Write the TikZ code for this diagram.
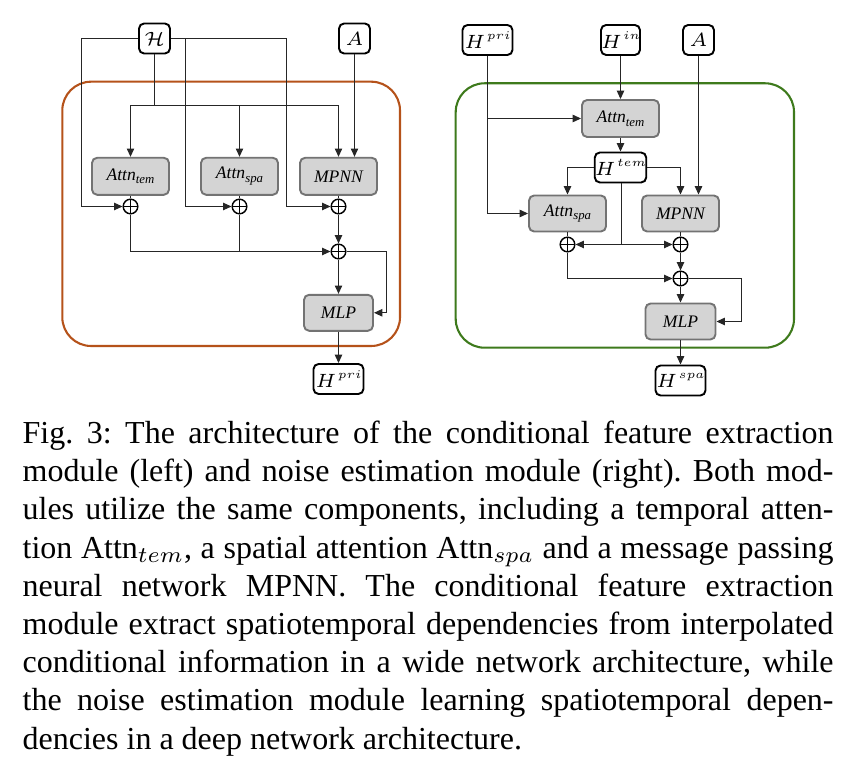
\documentclass[tikz,border=0pt]{standalone}
\usepackage{fix-cm}
\usepackage{fontspec}
\setmainfont{Liberation Serif}
\usetikzlibrary{arrows.meta}
\definecolor{modorange}{RGB}{181,82,26}
\definecolor{modgreen}{RGB}{62,122,28}
\newcommand\lsub[1]{\raisebox{-0.45ex}{\fontsize{4}{4}\selectfont #1}}
\newcommand\hlab[1]{$H$\kern0.5pt\raisebox{0.95ex}{\fontsize{3.7}{4}\selectfont$#1$}}
\def\pu{0.3125pt}
\begin{document}
\begin{tikzpicture}[x=0.3125pt,y=-0.3125pt,
 line/.style={draw=black!85, line width=0.35pt},
 arr/.style={line, -{Triangle[length=2.6pt,width=2.3pt]}},
 gbox/.style={draw=black!55, fill=black!17, line width=0.6pt, rounded corners=1.6pt, minimum width=77*\pu, minimum height=37*\pu, inner sep=0pt, font=\fontsize{5.5}{6}\selectfont\itshape},
 wbox/.style={draw=black, fill=white, line width=0.6pt, rounded corners=1.6pt, minimum width=50*\pu, minimum height=30*\pu, inner sep=0pt, font=\fontsize{6}{7}\selectfont},
 sbox/.style={wbox, minimum width=31*\pu},
 plus/.style={circle, draw=black, line width=0.45pt, minimum size=14.6*\pu, inner sep=0pt,
   path picture={\draw[line width=0.45pt] (path picture bounding box.north) -- (path picture bounding box.south) (path picture bounding box.west) -- (path picture bounding box.east);}},
 container/.style={line width=0.65pt, rounded corners=9pt}
]
\useasboundingbox (0,0) rectangle (864,776);
% ---------- containers
\draw[container, draw=modorange] (62.3,81.7) rectangle (400,346);
\draw[container, draw=modgreen] (455.7,83.3) rectangle (794,347.7);
% ---------- left module
\node[sbox] (H) at (154.5,38.5) {$\mathcal{H}$};
\node[sbox] (A) at (354.5,38.5) {$A$};
\node[gbox] (at1) at (130.5,176.3) {Attn\lsub{tem}};
\node[gbox] (as1) at (239.5,176.3) {Attn\lsub{spa}};
\node[gbox] (mp1) at (338.5,176.3) {MPNN};
\node[plus] (p1) at (130.5,206.5) {};
\node[plus] (p2) at (239.5,206.5) {};
\node[plus] (p3) at (338.5,206.5) {};
\node[plus] (p4) at (338.5,251.5) {};
\node[gbox, minimum width=69*\pu, minimum height=36*\pu] (mlp1) at (338.5,312.8) {MLP};
\node[wbox] (ho1) at (338.5,379) {\hlab{pri}};
\coordinate (hb) at (154.5,105.5);
\coordinate (hl) at (81.5,206.5);
\coordinate (hr2) at (185.5,206.5);
\coordinate (hr3) at (286.5,206.5);
\coordinate (r1) at (386.5,251.5);
\draw[line] (H.south) -- (hb);
\draw[arr] (hb) -| (at1.north);
\draw[arr] (hb) -| (mp1.north);
\draw[arr] (as1.north |- hb) -- (as1.north);
\draw[arr] (A.south) -- (A.south |- mp1.north);
\draw[arr] (H.west) -| (hl) -- (p1.west);
\draw[arr] (H.east) -| (hr3) -- (p3.west);
\draw[arr] (H.east -| hr2) -- (hr2) -- (p2.west);
\draw[line] (at1.south) -- (p1.north);
\draw[line] (as1.south) -- (p2.north);
\draw[line] (mp1.south) -- (p3.north);
\draw[arr] (p1.south) |- (p4.west);
\draw[line] (p2.south) -- (p2.south |- p4.west);
\draw[arr] (p3.south) -- (p4.north);
\draw[arr] (p4.south) -- (mlp1.north);
\draw[arr] (p4.east) -- (r1) |- (mlp1.east);
\draw[arr] (mlp1.south) -- (ho1.north);
% ---------- right module
\node[wbox] (hp) at (487.5,40) {\hlab{pri}};
\node[sbox] (hin) at (620.5,40) {\hlab{in}};
\node[sbox] (A2) at (698.5,40) {$A$};
\node[gbox] (at2) at (620.5,118.5) {Attn\lsub{tem}};
\node[wbox] (ht) at (620.5,167.5) {\hlab{tem}};
\node[gbox, minimum height=36*\pu] (as2) at (567.5,213.5) {Attn\lsub{spa}};
\node[gbox, minimum height=36*\pu] (mp2) at (680.5,213.5) {MPNN};
\node[plus] (q1) at (567.5,244.5) {};
\node[plus] (q2) at (680.5,244.5) {};
\node[plus] (q3) at (680.5,278.5) {};
\node[gbox, minimum width=70*\pu, minimum height=36*\pu] (mlp2) at (680.5,321.5) {MLP};
\node[wbox] (ho2) at (680.5,380.5) {\hlab{spa}};
\coordinate (tj) at (621.5,244.5);
\coordinate (r2) at (741.5,278.5);
\draw[arr] (hp.south) |- (as2.west);
\draw[arr] (hp.south |- at2.west) -- (at2.west);
\draw[arr] (hin.south) -- (at2.north);
\draw[arr] (at2.south) -- (ht.north);
\draw[arr] (ht.west) -| (as2.north);
\draw[arr] (ht.east) -| (mp2.north);
\draw[arr] (A2.south) -- (A2.south |- mp2.north);
\draw[line] (ht.south -| tj) -- (tj);
\draw[arr] (tj) -- (q1.east);
\draw[arr] (tj) -- (q2.west);
\draw[line] (as2.south) -- (q1.north);
\draw[line] (mp2.south) -- (q2.north);
\draw[arr] (q1.south) |- (q3.west);
\draw[arr] (q2.south) -- (q3.north);
\draw[arr] (q3.south) -- (mlp2.north);
\draw[arr] (q3.east) -- (r2) |- (mlp2.east);
\draw[arr] (mlp2.south) -- (ho2.north);
% ---------- caption
\node[anchor=base west, inner sep=0pt] (cap) at (22,443.5) {\begin{minipage}[t]{253.4pt}\fontsize{10}{11.94}\selectfont\frenchspacing\noindent
Fig.~3: The architecture of the conditional feature extraction\linebreak
module (left) and noise estimation module (right). Both mod-\linebreak
ules utilize the same components, including a temporal atten-\linebreak
tion Attn$_{tem}$, a spatial attention Attn$_{spa}$ and a message passing\linebreak
neural network MPNN. The conditional feature extraction\linebreak
module extract spatiotemporal dependencies from interpolated\linebreak
conditional information in a wide network architecture, while\linebreak
the noise estimation module learning spatiotemporal depen-\linebreak
dencies in a deep network architecture.
\end{minipage}};
\end{tikzpicture}
\end{document}
